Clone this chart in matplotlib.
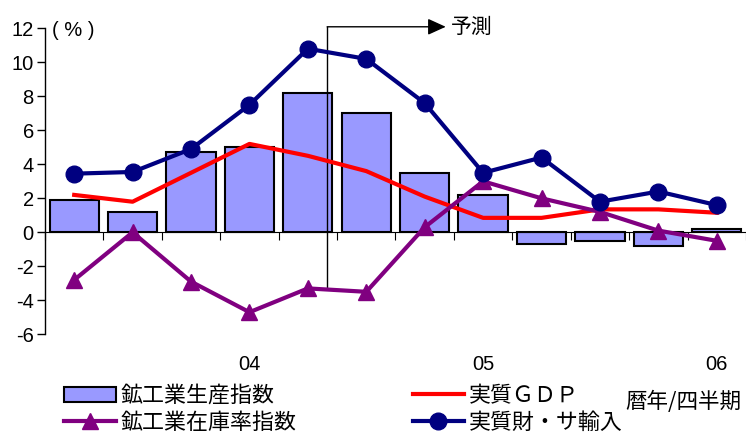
import matplotlib
matplotlib.use("Agg")
import matplotlib.pyplot as plt
from matplotlib.patches import Patch
from matplotlib.lines import Line2D
import numpy as np

plt.rcParams['font.family'] = ['Liberation Sans', 'Noto Sans CJK JP', 'DejaVu Sans']
plt.rcParams['axes.unicode_minus'] = False
JP = ['Noto Sans CJK JP', 'DejaVu Sans']

# Quarterly year-on-year changes (%)
quarter_labels = ["", "", "", "04", "", "", "", "05", "", "", "", "06"]
production = [1.9, 1.2, 4.7, 5.0, 8.2, 7.0, 3.5, 2.2, -0.7, -0.5, -0.8, 0.2]
real_gdp = [2.2, 1.8, 3.5, 5.2, 4.5, 3.6, 2.1, 0.85, 0.85, 1.35, 1.35, 1.15]
inventory_ratio = [-2.8, 0.0, -2.9, -4.7, -3.3, -3.5, 0.3, 3.0, 2.0, 1.2, 0.1, -0.5]
real_imports = [3.45, 3.55, 4.9, 7.5, 10.8, 10.2, 7.6, 3.5, 4.4, 1.8, 2.4, 1.6]

name_prod = "鉱工業生産指数"
name_gdp = "実質ＧＤＰ"
name_inv = "鉱工業在庫率指数"
name_imp = "実質財・サ輸入"

bar_color = "#9999FF"
gdp_color = "#FF0000"
inv_color = "#800080"
imp_color = "#000080"

fig = plt.figure(figsize=(7.46, 4.37), dpi=100)
ax = fig.add_axes([0.0603, 0.235, 0.9397, 0.7002])

x = np.arange(len(production))
ax.bar(x, production, width=0.843, color=bar_color, edgecolor="black",
       linewidth=1.5, zorder=2)

# forecast boundary marker
fx, fy_top, fy_bot = 4.33, 12.09, -3.28
ax.plot([fx, fx], [fy_bot, fy_top], color="black", lw=1.0, zorder=3, clip_on=False)
ax.annotate("", xy=(6.36, fy_top), xytext=(fx, fy_top),
            arrowprops=dict(arrowstyle="-|>,head_length=1.1,head_width=0.5",
                            color="black", lw=1.0, shrinkA=0, shrinkB=0),
            annotation_clip=False, zorder=3)
ax.text(6.45, fy_top, "予測", family=JP, fontsize=15, va="center", ha="left")

ax.plot(x, real_gdp, color=gdp_color, lw=3, zorder=4)
ax.plot(x, inventory_ratio, color=inv_color, lw=3, marker="^", ms=11, zorder=5)
ax.plot(x, real_imports, color=imp_color, lw=3, marker="o", ms=12, zorder=6)

ax.set_xlim(-0.5, len(production) - 0.5)
ax.set_ylim(-6, 12)
ax.set_yticks(np.arange(-6, 13, 2))
ax.tick_params(axis="y", direction="out", length=6, width=1, pad=2, labelsize=14.5)

for s in ["top", "right"]:
    ax.spines[s].set_visible(False)
ax.spines["bottom"].set_position(("data", 0))
ax.spines["left"].set_linewidth(1)
ax.set_xticks(np.arange(-0.5, len(production) - 0.4, 1.0))
ax.set_xticklabels([])
ax.tick_params(axis="x", direction="out", length=6, width=0.8)

for i, lab in enumerate(quarter_labels):
    if lab:
        ax.text(i, -7.75, lab, ha="center", va="center", fontsize=14.5)

fig.text(52 / 746, 1 - 30 / 437, "( % )", fontsize=14.5, va="center", ha="left")

handles = [
    Patch(facecolor=bar_color, edgecolor="black", linewidth=1.5),
    Line2D([], [], color=inv_color, lw=3, marker="^", ms=11),
    Line2D([], [], color=gdp_color, lw=3),
    Line2D([], [], color=imp_color, lw=3, marker="o", ms=12),
]
labels = [name_prod, name_inv, name_gdp, name_imp]
fig.legend(handles, labels, ncol=2, loc="upper left",
           bbox_to_anchor=(64 / 746, 1 - 385 / 437), frameon=False,
           prop=dict(family=JP, size=15.8), handlelength=2.35, handletextpad=0.22,
           columnspacing=5.3, labelspacing=0.22, borderaxespad=0, borderpad=0)

fig.text(625 / 746, 1 - 402 / 437, "暦年/四半期", family=JP, fontsize=15.5,
         va="center", ha="left")

fig.savefig("out.png", dpi=100)
